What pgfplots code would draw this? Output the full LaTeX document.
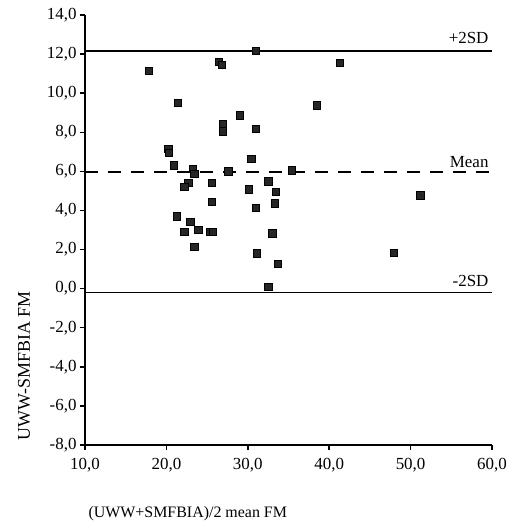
\documentclass[border=0pt]{standalone}
\usepackage{fontspec}
\setmainfont{Liberation Serif}
\usepackage{pgfplots}
\pgfplotsset{compat=1.18}
\begin{document}
\begin{tikzpicture}
\begin{axis}[
  name=ax,
  scale only axis,
  width=407bp, height=430bp,
  xmin=10, xmax=60, ymin=-8, ymax=14,
  axis lines=left,
  axis line style={line width=1.8pt, -},
  xtick={10,20,...,60}, ytick={-8,-6,...,14},
  tick align=outside,
  major tick length=5bp,
  every tick/.style={black, line width=1.5pt},
  tick label style={font=\fontsize{17}{17}\selectfont},
  xticklabel style={yshift=-5bp},
  /pgf/number format/fixed,
  /pgf/number format/zerofill,
  /pgf/number format/precision=1,
  /pgf/number format/use comma,
  /pgf/number format/assume math mode=true,
  xlabel={(UWW+SMFBIA)/2 mean FM},
  xlabel style={at={(axis description cs:0,0)}, anchor=base west, yshift=-72.5bp, font=\fontsize{16}{16}\selectfont},
  ylabel={UWW-SMFBIA FM},
  ylabel style={at={(axis description cs:-0.15,0.184)}, anchor=center, font=\fontsize{18}{18}\selectfont},
  clip=false,
]
\addplot[black, line width=1.7pt] coordinates {(10,12.17) (60,12.17)};
\addplot[black, line width=2.8pt, dash pattern=on 13bp off 10bp] coordinates {(10,5.97) (60,5.97)};
\addplot[black, line width=1.7pt] coordinates {(10,-0.2) (60,-0.2)};
\addplot[only marks, mark=square*, mark size=3.7bp,
  mark options={fill=black!85, draw=black, rounded corners=2bp}] table {
x y
17.8 11.15
26.4 11.62
26.8 11.45
31.0 12.17
41.3 11.56
21.4 9.52
38.5 9.39
29.0 8.88
26.9 8.45
26.9 8.06
31.0 8.19
20.2 7.17
20.3 6.95
30.4 6.66
20.9 6.32
23.2 6.14
23.4 5.88
27.6 6.01
35.4 6.06
22.7 5.43
22.2 5.21
25.6 5.41
30.1 5.09
32.5 5.50
33.4 4.95
51.2 4.78
25.6 4.44
31.0 4.15
33.3 4.37
21.3 3.71
22.9 3.41
22.2 2.90
23.9 3.02
25.4 2.90
25.7 2.90
33.0 2.83
23.4 2.14
31.1 1.81
47.9 1.84
33.7 1.28
32.5 0.09
};
\node[anchor=base east, yshift=7.5bp, font=\fontsize{17}{17}\selectfont] at (axis cs:60,12.17) {+2SD};
\node[anchor=base east, yshift=4.5bp, font=\fontsize{17}{17}\selectfont] at (axis cs:60,5.97) {Mean};
\node[anchor=base east, yshift=6bp, font=\fontsize{17}{17}\selectfont] at (axis cs:60,-0.2) {-2SD};
\end{axis}
\path (ax.south west) ++(-85bp,-85bp) rectangle ++(511bp,530bp);
\end{tikzpicture}
\end{document}
